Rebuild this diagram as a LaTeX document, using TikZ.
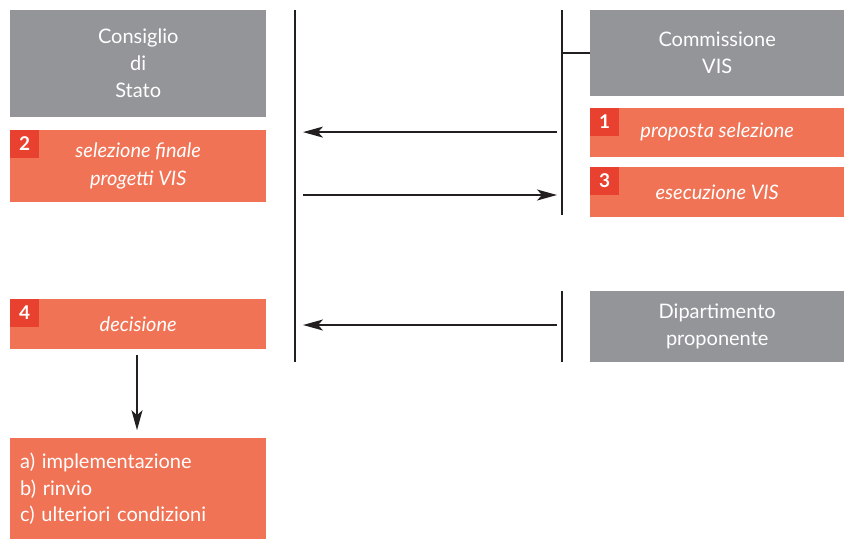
\documentclass[tikz,border=0pt]{standalone}
\usepackage{fontspec}
\setmainfont{Lato}
\usepackage{tikz}
\usetikzlibrary{positioning,arrows.meta}

\definecolor{visgray}{HTML}{939598}
\definecolor{visorange}{HTML}{F07355}
\definecolor{visred}{HTML}{E8412F}
\definecolor{visline}{HTML}{231F20}

\begin{document}
\begin{tikzpicture}[
      x=1pt, y=-1pt,
      every node/.style={
        align=center, inner sep=0pt, text=white
      },
      graybox/.style={
        fill=visgray, minimum width=256pt,
        font=\fontsize{20}{27}\selectfont
      },
      orangebox/.style={
        fill=visorange, minimum width=256pt,
        font=\fontsize{20}{28}\selectfont\itshape
      },
      badge/.style={
        fill=visred, minimum width=29pt, minimum height=28pt,
        anchor=north west, font=\fontsize{19}{19}\selectfont\bfseries
      },
      vline/.style={visline, line width=2pt},
      flow/.style={visline, line width=1.6pt},
      >={Stealth[length=20pt,width=11pt,inset=5pt]}
    ]
    \useasboundingbox (0,0) rectangle (844,539);

    % Left column
    \node (cds) [graybox, minimum height=107pt, anchor=north west] at (10,10) {Consiglio\\di\\Stato};
    \node (sel) [orangebox, minimum height=72pt, below=12pt of cds] {selezione finale\\progetti VIS};
    \node (dec) [orangebox, minimum height=50pt, below=97pt of sel] {decisione};
    \node (esito) [fill=visorange, minimum height=101pt, text width=236pt, inner xsep=10pt,
      align=left, font=\fontsize{20}{26.5}\selectfont, below=89pt of dec]
      {a) implementazione\\b) rinvio\\c) ulteriori condizioni};

    % Right column
    \node (cvis) [graybox, minimum width=254pt, minimum height=86pt, anchor=north west] at (590,10) {Commissione\\VIS};
    \node (prop) [orangebox, minimum width=254pt, minimum height=49pt, below=11pt of cvis] {proposta selezione};
    \node (esec) [orangebox, minimum width=254pt, minimum height=50pt, below=10pt of prop] {esecuzione VIS};
    \node (dip) [graybox, minimum width=254pt, minimum height=71pt, anchor=north west] at (590,291) {Dipartimento\\proponente};

    % Step numbers
    \node (b1) [badge] at (prop.north west) {1};
    \node (b2) [badge] at (sel.north west) {2};
    \node (b3) [badge] at (esec.north west) {3};
    \node (b4) [badge] at (dec.north west) {4};

    % Vertical lines
    \coordinate (lt) at (295,10);
    \coordinate (lb) at (295,362);
    \coordinate (rt) at (562,10);
    \coordinate (rb) at (562,215);
    \coordinate (dt) at (562,291);
    \coordinate (db) at (562,362);
    \draw[vline] (lt) -- (lb);
    \draw[vline] (rt) -- (rb);
    \draw[vline] (dt) -- (db);
    \draw[vline] (rt |- cvis.west) -- (cvis.west);

    % Arrows between the lines
    \coordinate (ra) at (557,0);
    \coordinate (la) at (303,0);
    \draw[flow, ->] (ra |- prop.west) -- (la |- prop.west);
    \draw[flow, ->] (la |- 0,195) -- (ra |- 0,195);
    \draw[flow, ->] (ra |- 0,325) -- (la |- 0,325);
    \draw[flow, ->, shorten <=6pt, shorten >=8pt] (dec.south -| 137,0) -- (esito.north -| 137,0);
  \end{tikzpicture}
\end{document}
